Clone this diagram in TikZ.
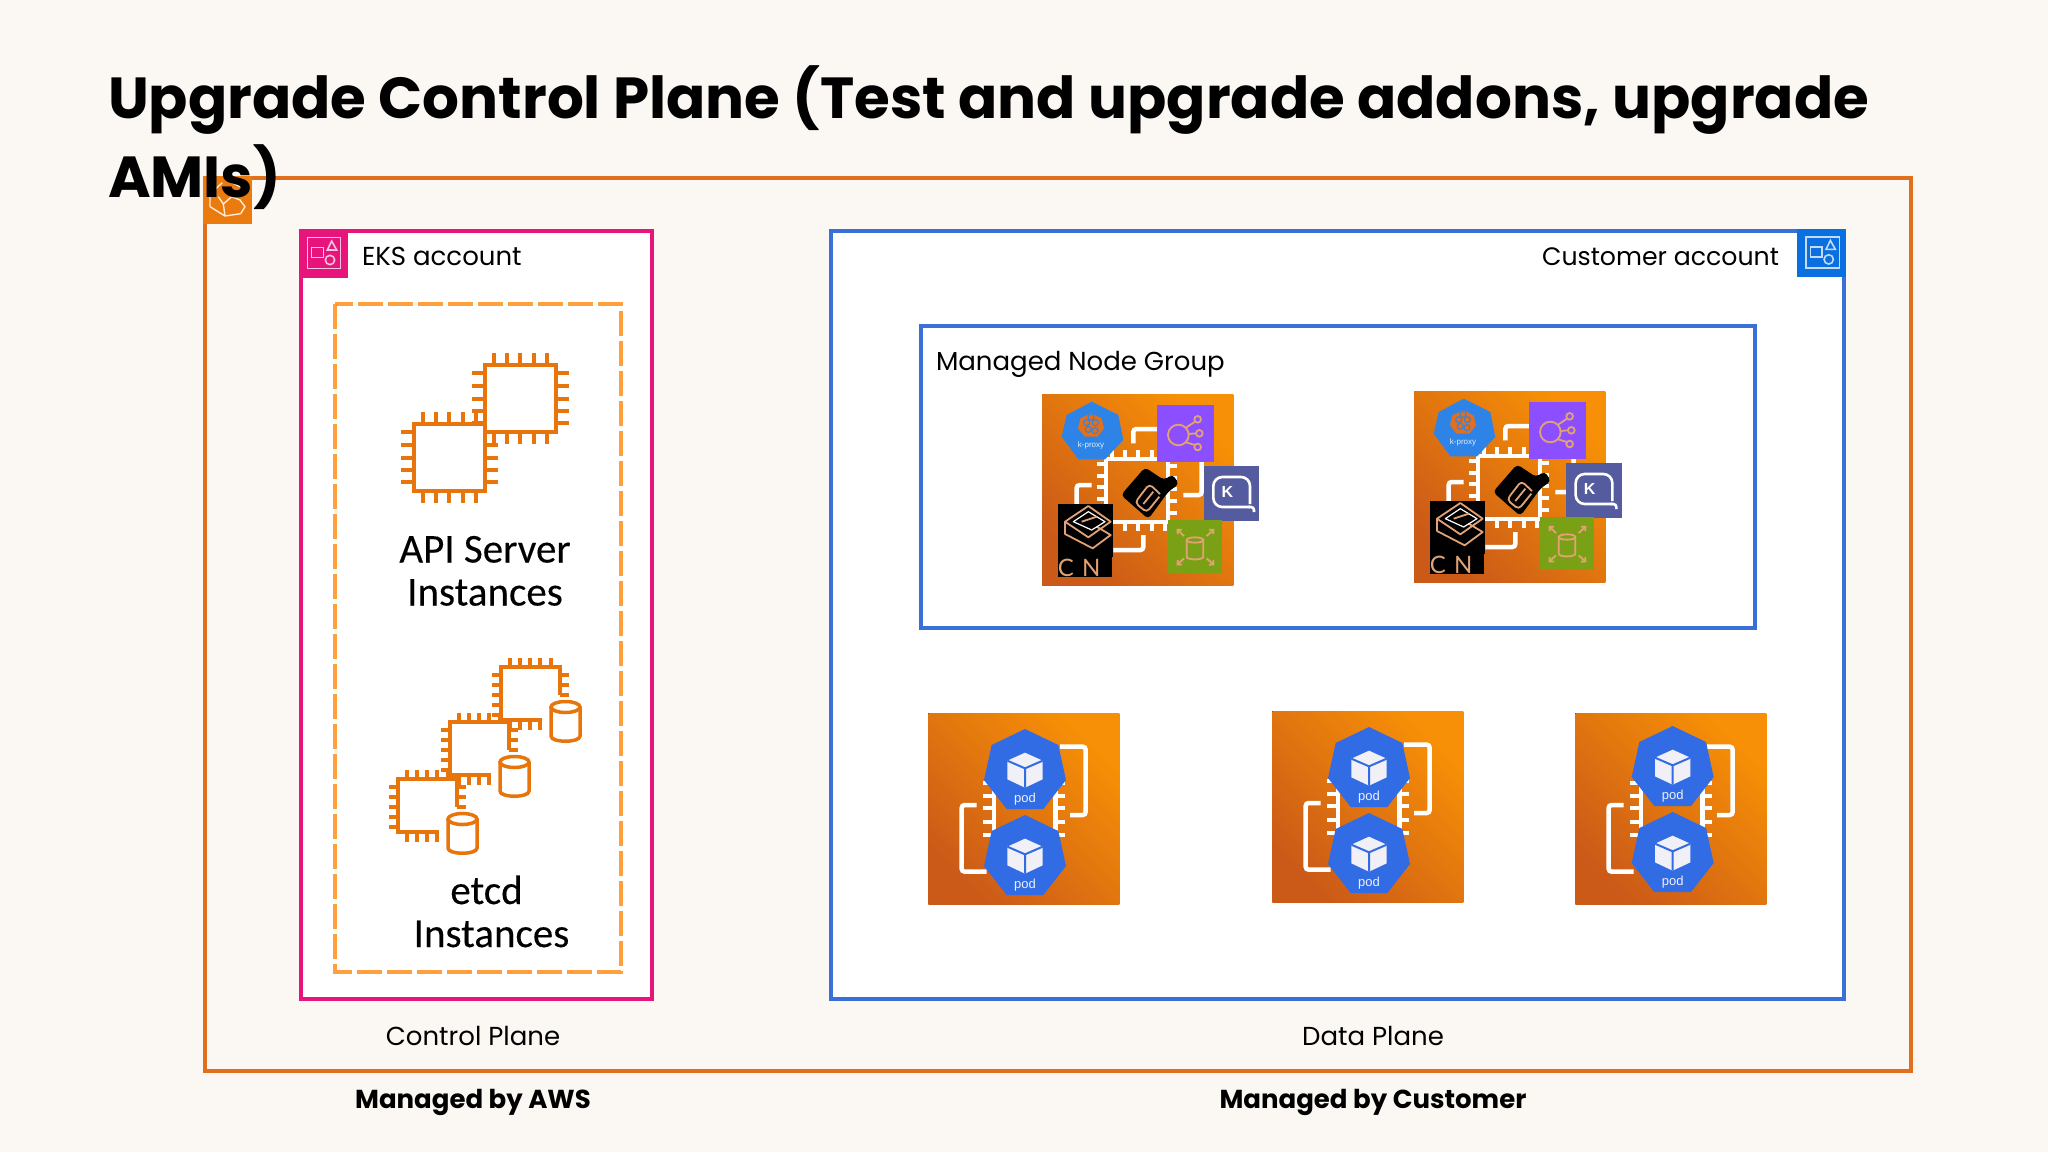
\documentclass[tikz,border=0pt]{standalone}
\usepackage{fontspec}
\usetikzlibrary{arrows.meta}
\setmainfont{Poppins}
\newfontfamily\calfont[FakeBold=0.25]{Carlito}
\newfontfamily\arfont{Liberation Sans}
\newfontfamily\cnifont{Lato}
\definecolor{pagebg}{HTML}{FBF8F3}
\definecolor{awsorange}{HTML}{E0701E}
\definecolor{iconorange}{HTML}{EB7A0F}
\definecolor{chiporange}{HTML}{E8750C}
\definecolor{dashorange}{HTML}{FFA03C}
\definecolor{pinkline}{HTML}{E7157B}
\definecolor{blueline}{HTML}{3B6FD8}
\definecolor{blueicon}{HTML}{0A6FE0}
\definecolor{podblue}{HTML}{326CE5}
\definecolor{kblue}{HTML}{2E84E6}
\definecolor{tiledark}{HTML}{CB5A18}
\definecolor{tilelight}{HTML}{F79006}
\definecolor{purplebox}{HTML}{8C4FFF}
\definecolor{indigobox}{HTML}{545B9E}
\definecolor{greenbox}{HTML}{7AA116}
\definecolor{glyphline}{HTML}{E3A273}
\definecolor{cubewhite}{HTML}{F0F0F6}
\tikzset{
  x=1pt,y=-1pt,
  txt/.style={inner sep=0pt,outer sep=0pt,text=black},
  body/.style={txt,font=\fontsize{26}{30}\selectfont},
  boldlabel/.style={txt,font=\fontsize{26}{30}\selectfont\bfseries},
  caltext/.style={txt,font=\calfont\fontsize{41}{43}\selectfont},
  chipline/.style={draw=chiporange,line width=4pt},
  tileline/.style={draw=white,line width=4.5pt,rounded corners=3pt},
  glyph/.style={draw=glyphline,line width=1.8pt},
  tilebg/.style={shading=axis,bottom color=tiledark,top color=tilelight,shading angle=-45},
}
% account glyph
\newcommand{\accountglyph}[3]{%
  \begin{scope}[shift={(#1,#2)},scale=1/3,draw=#3,line width=1.6pt]
    \draw (352,232) rectangle (452,325);
    \draw (365,263) rectangle (400,292);
    \draw (425,243) -- (440,270) -- (412,270) -- cycle;
    \draw (420,300) circle[radius=14];
  \end{scope}}
% square chip with pins
\newcommand{\apichip}[2]{%
  \begin{scope}[shift={(#1,#2)}]
    \draw[chipline] (0,0) rectangle (71,67);
    \foreach \p in {9,22,35,49,62}{
      \draw[chipline] (\p,-12) -- (\p,0);
      \draw[chipline] (\p,67) -- (\p,79);
    }
    \foreach \p in {8,21,34,46,58}{
      \draw[chipline] (-13,\p) -- (0,\p);
      \draw[chipline] (71,\p) -- (84,\p);
    }
  \end{scope}}
% open chip with a cylinder
\newcommand{\etcdchip}[2]{%
  \begin{scope}[shift={(#1,#2)}]
    \draw[chipline] (59,28) -- (59,0) -- (0,0) -- (0,53) -- (41,53);
    \foreach \p in {9,19,29,39,50}{\draw[chipline] (\p,-9) -- (\p,0);}
    \foreach \p in {9,19,29,39}{\draw[chipline] (\p,53) -- (\p,63);}
    \foreach \p in {8,18,28,38,48}{\draw[chipline] (-9,\p) -- (0,\p);}
    \foreach \p in {8,18,28}{\draw[chipline] (59,\p) -- (68,\p);}
    \draw[chipline,line width=3.5pt] (50,40) -- (50,69) .. controls (50,76) and (79,76) .. (79,69) -- (79,40);
    \draw[chipline,line width=3.5pt] (64.5,40) ellipse[x radius=14.5,y radius=5.5];
  \end{scope}}
% pod
\newcommand{\podhept}[2]{%
  \begin{scope}[shift={(#1,#2)}]
    \fill[podblue] (315,87) -- (415,135) -- (438,240) -- (370,327) -- (260,327) -- (192,240) -- (215,135) -- cycle;
    \fill[cubewhite] (315,158) -- (368,182) -- (368,238) -- (315,263) -- (262,238) -- (262,182) -- cycle;
    \draw[podblue,line width=2pt] (262,182) -- (315,205) -- (368,182) (315,205) -- (315,263);
    \node[txt,text=cubewhite,font=\arfont\fontsize{13}{13}\selectfont] at (315,298) {pod};
  \end{scope}}
% arguments: tile origin x, y; pod offset x, y
\newcommand{\podtile}[4]{%
  \begin{scope}[shift={(#1,#2)},scale=1/3]
    \fill[tilebg] (25,40) rectangle (598,612);
    \draw[tileline] (170,315) -- (125,315) -- (125,515) -- (200,515);
    \draw[tileline] (420,140) -- (497,140) -- (497,345) -- (450,345);
    \draw[draw=white,line width=4.5pt] (222,240) -- (222,420) (407,240) -- (407,420);
    \foreach \p in {250,287,325,365,405}{
      \draw[draw=white,line width=4pt] (190,\p) -- (222,\p) (407,\p) -- (435,\p);
    }
    \podhept{#3}{#4}
    \podhept{#3}{258+#4}
  \end{scope}}
% arguments: tile origin x, y; k-box offset x
\newcommand{\nodetile}[3]{%
  \begin{scope}[shift={(#1,#2)},scale=1/3]
    \fill[tilebg] (66,42) rectangle (640,615);
    \draw[tileline] (340,190) -- (340,147) -- (420,147);
    \draw[tileline] (545,240) -- (545,345) -- (490,345);
    \draw[tileline] (170,375) -- (170,315) -- (215,315);
    \draw[tileline] (280,510) -- (370,510) -- (370,465);
    \draw[draw=white,line width=4pt] (258,238) rectangle (445,425);
    \foreach \p in {275,315,355,395}{\draw[draw=white,line width=4pt] (\p,210) -- (\p,238);}
    \foreach \p in {315,355,395,435}{\draw[draw=white,line width=4pt] (\p,425) -- (\p,452);}
    \foreach \p in {252,287,322,357,392}{\draw[draw=white,line width=4pt] (232,\p) -- (258,\p);}
    \foreach \p in {258,293,328,363,398}{\draw[draw=white,line width=4pt] (445,\p) -- (472,\p);}
    % k-proxy
    \fill[kblue] (215,65) -- (295,105) -- (310,180) -- (255,238) -- (175,238) -- (125,170) -- (140,105) -- cycle;
    \fill[awsorange] (213,100) -- (245,115) -- (252,145) -- (232,170) -- (194,170) -- (174,145) -- (181,115) -- cycle;
    \foreach \a/\b in {213/112,200/128,226/128,205/148,225/152}{\draw[kblue,line width=1pt] (\a,\b) circle[radius=9];}
    \node[txt,text=white!85!kblue,font=\arfont\fontsize{8}{8}\selectfont] at (213,195) {k-proxy};
    % purple
    \fill[purplebox] (410,75) rectangle (582,245);
    \draw[glyph] (475,165) circle[radius=31] (533,118) circle[radius=10] (538,160) circle[radius=10] (533,201) circle[radius=10];
    \draw[glyph] (498,143) -- (525,125) (506,162) -- (528,160) (498,187) -- (525,195);
    % K
    \begin{scope}[shift={(#3,0)}]
      \fill[indigobox] (552,257) rectangle (718,422);
      \draw[white,line width=2.6pt,rounded corners=9pt] (690,372) -- (690,291) -- (580,291) -- (580,381) -- (690,381);
      \draw[white,line width=2.6pt,rounded corners=3pt] (685,381) -- (702,381) -- (702,396);
      \node[txt,text=white,font=\arfont\bfseries\fontsize{16}{16}\selectfont] at (622,335) {K};
    \end{scope}
    % green
    \fill[greenbox] (445,420) rectangle (607,580);
    \draw[glyph] (500,480) -- (500,530) .. controls (500,541) and (550,541) .. (550,530) -- (550,480);
    \draw[glyph] (525,480) ellipse[x radius=25,y radius=8];
    \draw[glyph,-{Straight Barb[length=3pt]}] (492,468) -- (470,447);
    \draw[glyph,-{Straight Barb[length=3pt]}] (560,468) -- (583,447);
    \draw[glyph,-{Straight Barb[length=3pt]}] (492,535) -- (470,556);
    \draw[glyph,-{Straight Barb[length=3pt]}] (560,535) -- (583,556);
    % CNI
    \fill[black] (113,373) rectangle (280,530);
    \fill[black] (113,530) rectangle (275,590);
    \draw[glyph,line join=round] (135,425) -- (205,378) -- (272,425) -- (205,472) -- cycle;
    \draw[glyph,line join=round] (135,425) -- (135,462) -- (218,505) -- (272,465) -- (230,440);
    \draw[draw=white,line width=1.2pt,line join=round] (160,425) -- (205,395) -- (255,425) -- (215,450) -- cycle;
    \draw[glyph] (185,425) -- (230,410);
    \node[anchor=base west,inner sep=0pt,text=glyphline,font=\cnifont\fontsize{24}{24}\selectfont] at (113,590) {C};
    \node[anchor=base west,inner sep=0pt,text=glyphline,font=\cnifont\fontsize{24}{24}\selectfont] at (186,590) {N};
    % chain
    \fill[black,rounded corners=4pt] (375,262) -- (432,300) -- (458,283) -- (477,312) -- (445,335) -- (385,417) -- (303,345) -- cycle;
    \draw[glyph,rounded corners=4pt] (420,342) -- (388,312) -- (345,368) -- (380,397) -- (418,350);
    \draw[glyph] (370,372) -- (400,335);
  \end{scope}}
\begin{document}
\begin{tikzpicture}
\useasboundingbox (0,0) rectangle (2048,1152);
\fill[pagebg] (0,0) rectangle (2048,1152);
% outer AWS frame
\draw[awsorange,line width=4pt] (205,178) rectangle (1911,1071);
\fill[iconorange] (203,176) rectangle (252,224);
\begin{scope}[shift={(90,50)},scale=1/3]
  \draw[white!85!orange,line width=1.4pt,line join=round] (360,470) -- (360,432) -- (397,398) (360,470) -- (405,498) -- (452,491) -- (465,470) -- (450,450) -- (425,440) -- (400,462) -- (405,498) (385,440) -- (400,462) (420,395) -- (470,420);
\end{scope}
% EKS account
\draw[pinkline,fill=white,line width=4pt] (301,231) rectangle (652,999);
\fill[pinkline] (299,229) rectangle (347.5,278);
\accountglyph{190}{160}{white!75!pinkline}
\node[body,anchor=base west] (eks) at (362,265) {EKS account};
\draw[dashorange,line width=4pt,dash pattern=on 25pt off 5pt] (335,304) rectangle (621,972);
\apichip{485}{365}
\apichip{414}{424}
\node[caltext,anchor=base] (api1) at (485,562.5) {API Server};
\node[caltext,anchor=base] (api2) at (485,605.5) {Instances};
\etcdchip{501}{667}
\etcdchip{450}{722}
\etcdchip{398}{779}
\node[caltext,anchor=base] (etcd1) at (486.5,904) {etcd};
\node[caltext,anchor=base] (etcd2) at (491.5,947) {Instances};
% customer account
\draw[blueline,fill=white,line width=4pt] (831,231) rectangle (1844,999);
\fill[blueicon] (1797,229) rectangle (1846,277);
\accountglyph{1688.7}{159.4}{white!75!blueicon}
\node[body,font=\fontsize{25.2}{30}\selectfont,anchor=base east] (cust) at (1779,265) {Customer account};
\draw[blueline,line width=4pt] (921,326) rectangle (1755,628);
\node[body,anchor=base west] (mng) at (936,370) {Managed Node Group};
\nodetile{1020}{380}{0}
\nodetile{1392}{377}{-29}
\podtile{920}{700}{0}{0}
\podtile{1264}{698}{0}{0}
\podtile{1567}{700}{2}{-9}
% labels
\node[body,anchor=base] (cp) at (473,1045) {Control Plane};
\node[body,anchor=base] (dp) at (1373,1045) {Data Plane};
\node[boldlabel,anchor=base] (mawt) at (473,1108) {Managed by AWS};
\node[boldlabel,anchor=base] (mcust) at (1373,1108) {Managed by Customer};
% title
\node[txt,anchor=base west,align=left,font=\fontsize{57.9}{79}\selectfont\bfseries] (title) at (108,197) {Upgrade Control Plane (Test and upgrade addons, upgrade\\AMIs)};
\end{tikzpicture}
\end{document}
